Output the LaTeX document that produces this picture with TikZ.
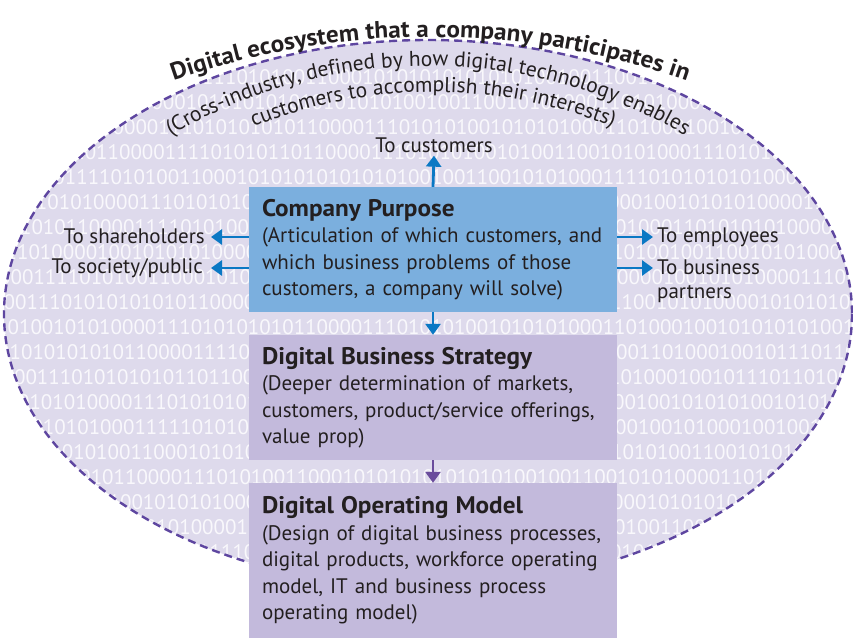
\documentclass[tikz,border=0pt]{standalone}
\usepackage{fontspec}
\setmainfont{PT Sans}
\newfontfamily\bfont[FakeStretch=1.05]{PT Sans}
\usetikzlibrary{decorations.text,arrows.meta}
\definecolor{ellfill}{HTML}{DEDAEC}
\definecolor{ellline}{HTML}{5E46A0}
\definecolor{cpblue}{HTML}{7BAFDE}
\definecolor{lav}{HTML}{C3BADC}
\definecolor{arrblue}{HTML}{0A78C4}
\definecolor{arrpurple}{HTML}{6A4C9C}
\definecolor{txt}{HTML}{231F20}
\tikzset{
  box/.style={rectangle, minimum width=368pt, text width=342pt, inner xsep=13pt, inner ysep=0pt,
    align=left, text=txt, font=\fontsize{21}{26.5}\selectfont},
  barrow/.style={-{Triangle[length=11pt,width=15pt]}, line width=2.8pt, draw=arrblue},
  parrow/.style={-{Triangle[length=11pt,width=15pt]}, line width=2.8pt, draw=arrpurple},
  lbl/.style={text=txt, font=\fontsize{21}{24.5}\selectfont, inner sep=3pt},
  bin/.style={anchor=west, text=white!82!ellfill, font=\fontsize{21}{22}\selectfont, inner sep=0pt},
  curved/.style={decorate, decoration={text along path, text align=center, text color=txt}}
}
\newcommand{\bt}[1]{{\fontsize{24}{26.5}\selectfont\bfont\bfseries #1}}
\begin{document}
\begin{tikzpicture}[x=1pt,y=-1pt]
\useasboundingbox (0,0) rectangle (853,637);
% ellipse
\fill[ellfill] (428,314) ellipse [x radius=424, y radius=274];
\begin{scope}
\clip (428,314) ellipse [x radius=424, y radius=274];
\node[bin] (b1) at (-4,77) {01010101010110000111101010011000101010101010101001001100101010001101010101010001111010101001010};
\node[bin] (b2) at (-9,102) {00111101010011000101010101010101010100100110010101000110101000111101010100110001010101010101010};
\node[bin] (b3) at (-2,127) {10100101010000111010101010110000111010101001010101000110100010010111011010000100101010100101011};
\node[bin] (b4) at (-7,152) {01010101011000011110101011011000011101010100101001100101010001110101010101001001000101010110100};
\node[bin] (b5) at (-4,177) {11000011110101001100010101010101010100100110010101000111101010101010000111101010100110001010101};
\node[bin] (b6) at (-10,202) {00101010100001110101010101100001111010101001011101101000010010101010000111101010100110010101000};
\node[bin] (b7) at (-3,227) {10101011000011110101001100010101010101010100100110010101000110101010100001110101010101100001111};
\node[bin] (b8) at (-6,252) {01101000010010101010000111101010100110001010101010101010100100110010101000111010101011000011110};
\node[bin] (b9) at (-1,277) {00011110101001100010101010101000011101010100101110110100001001010100001110101010100100101011010};
\node[bin] (b10) at (-8,302) {00011101010101010110000111101010101010000111101010010011001010100001010101010110000111010101010};
\node[bin] (b11) at (-4,327) {10100101010000111010101010110000111010101001010101000110100010010101010100100110010101000010101};
\node[bin] (b12) at (-2,352) {01010101010110000111101010010101000111010101010010101000110100010010111011010000100101010110100};
\node[bin] (b13) at (-9,377) {00001110101010101101100001110101010010100110010101000110100010010111011010000100101011101100101};
\node[bin] (b14) at (-5,402) {10010101000011101010101011000011110101010010110101001000100101010100101011010100101001001011101};
\node[bin] (b15) at (-3,427) {01001010100011111010101010100001111010101001100101010100100101000100100110101010001010101010010};
\node[bin] (b16) at (-7,452) {00111101010011000101010101010101000111010101011000011110101001100101010100111010101010001110101};
\node[bin] (b17) at (-1,477) {10101010101100001110101001100010101010101010100100110010101000011010101000110000101010100111010};
\node[bin] (b18) at (-6,502) {01110100001001010101000011101010101011000011110101001100010101010100011000011110101001100101010};
\node[bin] (b19) at (-4,527) {00101001011110101000011110101010011000101010101010101001001100101000110000101010011101010010101};
\node[bin] (b20) at (-8,552) {10100111010101000011110101010011000101010101010100110001010100111010100101010001101010100101010};
\end{scope}
\draw[ellline, line width=2.4pt, dash pattern=on 8pt off 5pt] (428,314) ellipse [x radius=424, y radius=274];
% curved texts
\path[curved, decoration={text={|\fontsize{24}{24}\selectfont\bfont\bfseries|Digital ecosystem that a company participates in}}]
  (430,811) ++(125:774pt) arc[start angle=125, end angle=55, radius=774pt];
\path[curved, decoration={text={|\fontsize{21.5}{22}\selectfont|(Cross-industry, defined by how digital technology enables}}]
  (428,577) ++(140:511pt) arc[start angle=140, end angle=40, radius=511pt];
\path[curved, decoration={text={|\fontsize{21.5}{22}\selectfont|customers to accomplish their interests)}}]
  (433,570) ++(125:478pt) arc[start angle=125, end angle=55, radius=478pt];
% boxes
\node[box, fill=cpblue, minimum height=125pt] (cp) at (433,249.5)
  {\bt{Company Purpose}\\(Articulation of which customers, and\\which business problems of those\\customers, a company will solve)};
\node[box, fill=lav, minimum height=125pt] (dbs) at (433,397.5)
  {\bt{Digital Business Strategy}\\(Deeper determination of markets,\\customers, product/service offerings,\\value prop)};
\node[box, fill=lav, minimum height=155pt] (dom) at (433,560.5)
  {\bt{Digital Operating Model}\\(Design of digital business processes,\\digital products, workforce operating\\model, IT and business process\\operating model)};
% labels
\node[lbl] (lcust) at (434,145) {To customers};
\node[lbl, anchor=east] (lsh) at (208,236) {To shareholders};
\node[lbl, anchor=east] (lsoc) at (206,268) {To society/public};
\node[lbl, anchor=west] (lemp) at (654,237) {To employees};
\node[lbl, anchor=west, align=left] (lbp) at (654,281) {To business\\partners};
\coordinate (tsh) at (211,237);
\coordinate (tsoc) at (211,268);
\coordinate (temp) at (653,237);
\coordinate (tbp) at (653,268);
% arrows
\draw[barrow] (cp.north) -- (lcust.south);
\draw[barrow] (cp.west |- tsh) -- (tsh);
\draw[barrow] (cp.west |- tsoc) -- (tsoc);
\draw[barrow] (cp.east |- temp) -- (temp);
\draw[barrow] (cp.east |- tbp) -- (tbp);
\draw[barrow] (cp.south) -- (dbs.north);
\draw[parrow] (dbs.south) -- (dom.north);
\end{tikzpicture}
\end{document}
